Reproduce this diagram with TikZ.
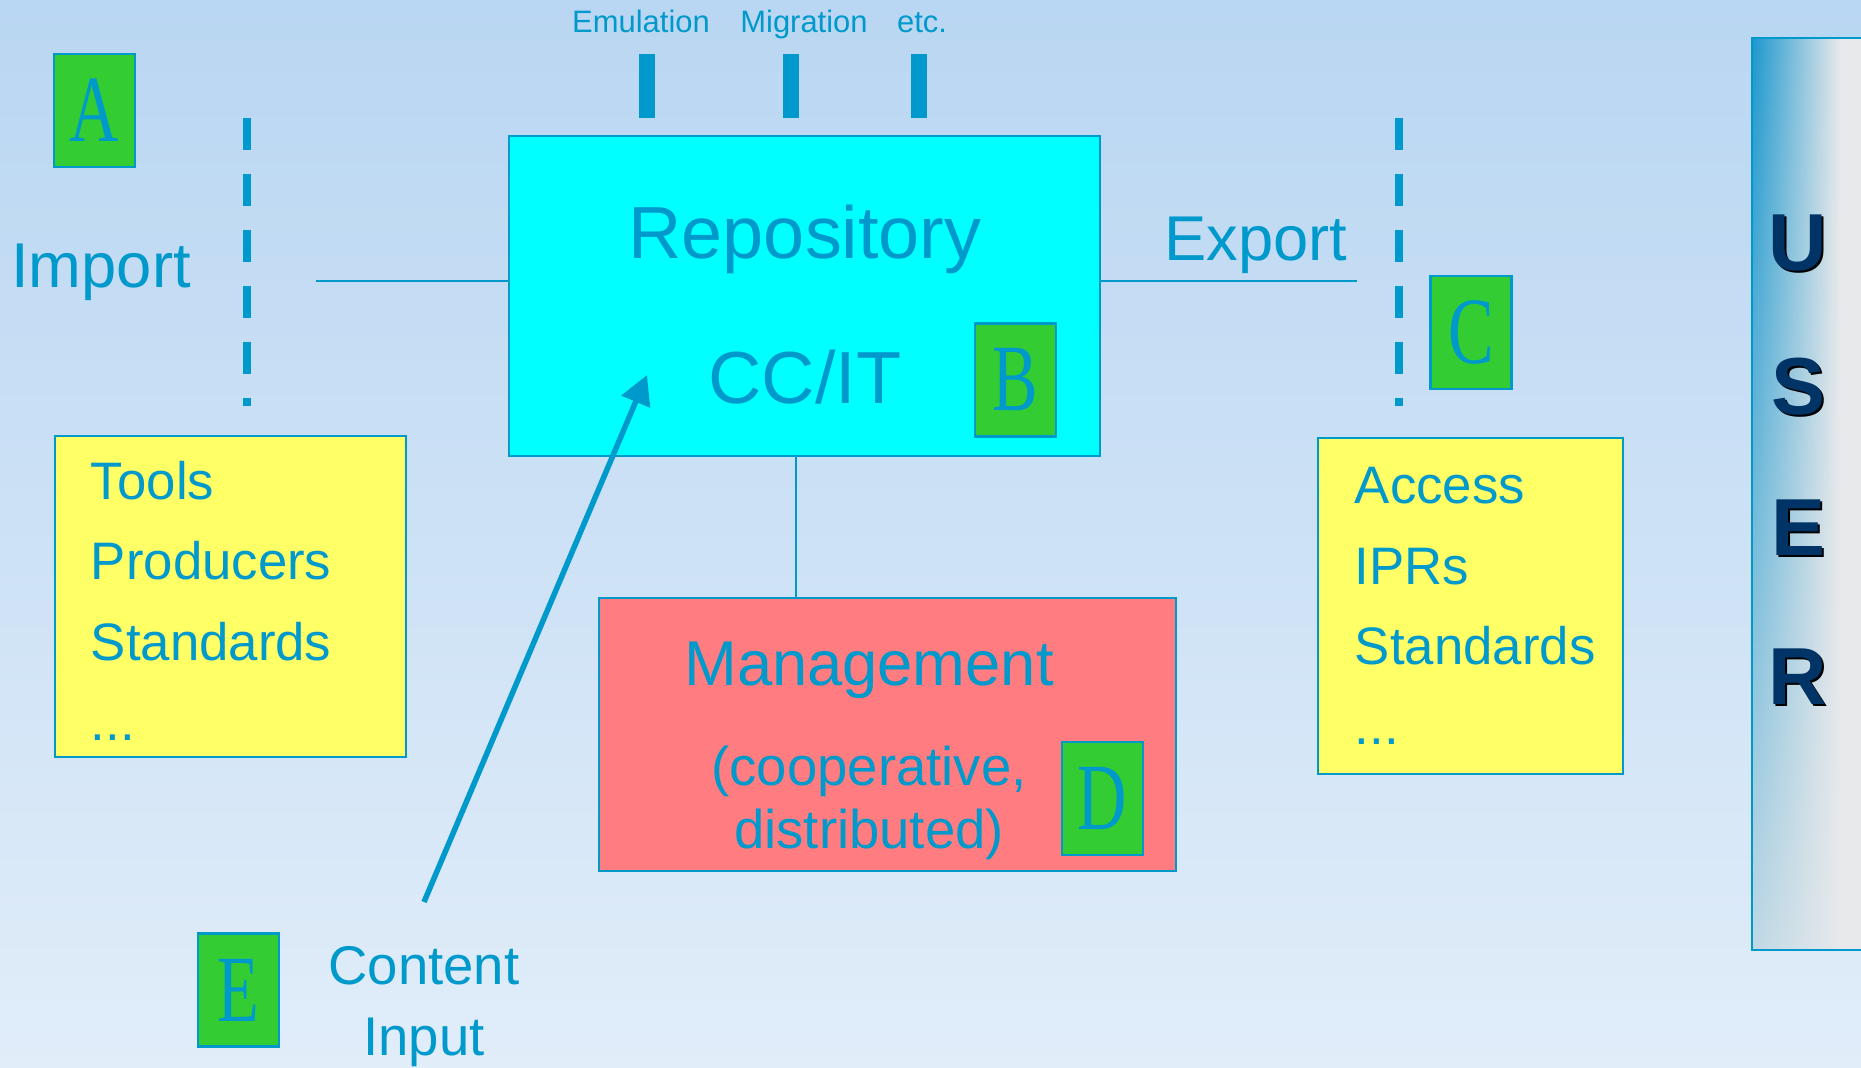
\documentclass[tikz,border=0pt]{standalone}
\usepackage{fontspec}
\setmainfont{Liberation Sans}
\newfontfamily\tagletterfont{Liberation Serif}
\usetikzlibrary{arrows.meta,fadings}
\tikzfading[name=userfade, top color=transparent!100, bottom color=transparent!0]

\begin{document}
\begin{tikzpicture}[
        x=0.01cm, y=-0.01cm,
    ]

    \definecolor{dipblue}{RGB}{0,153,204}
    \definecolor{bgtop}{RGB}{185,214,242}
    \definecolor{bgbottom}{RGB}{225,237,249}
    \definecolor{repocyan}{RGB}{0,255,255}
    \definecolor{noteyellow}{RGB}{255,255,102}
    \definecolor{mgmtred}{RGB}{255,124,128}
    \definecolor{taggreen}{RGB}{51,204,51}
    \definecolor{usernavy}{RGB}{0,51,102}
    \definecolor{userblue}{RGB}{28,152,206}
    \definecolor{usergrey}{RGB}{232,233,235}

    \tikzstyle{box} = [rectangle, draw=dipblue, line width=0.6pt, inner sep=0pt];
    \tikzstyle{lettertag} = [box, fill=taggreen, minimum width=0.81cm, minimum height=1.13cm,
                       text=dipblue, font=\tagletterfont\fontsize{27}{30}\selectfont];
    \tikzstyle{notebox} = [box, fill=noteyellow, text=dipblue, align=left, inner xsep=0.36cm,
                       font=\fontsize{15}{22.8}\selectfont];
    \tikzstyle{txt} = [text=dipblue, anchor=base, inner sep=0pt];
    \tikzstyle{methodbar} = [rectangle, fill=dipblue, minimum width=0.16cm, minimum height=0.64cm, inner sep=0pt];
    \tikzstyle{userletter} = [font=\bfseries\fontsize{23}{23}\selectfont, inner sep=0pt];
    \tikzstyle{conn} = [draw=dipblue, line width=0.6pt];
    \tikzstyle{dashline} = [draw=dipblue, line width=0.08cm, dash pattern=on 0.32cm off 0.24cm];

    % Background
    \shade[top color=bgtop, bottom color=bgbottom] (0,0) rectangle (1861,1068);
    \useasboundingbox (0,0) rectangle (1861,1068);

    % User bar
    \shade[left color=userblue, right color=usergrey] (1752,38) rectangle (1840,950);
    \fill[usergrey] (1840,38) rectangle (1861,950);
    \fill[usergrey, path fading=userfade, fill opacity=0.8] (1752,38) rectangle (1861,950);
    \draw[dipblue, line width=0.6pt] (1861,38) -| (1752,950) -- (1861,950);

    \node[userletter, text=black] (ushadow) at (1800,245) {U};
    \node[userletter, text=usernavy] (uletter) at (1798,243) {U};
    \node[userletter, text=black] (sshadow) at (1800,389) {S};
    \node[userletter, text=usernavy] (sletter) at (1798,387) {S};
    \node[userletter, text=black] (eshadow) at (1800,530) {E};
    \node[userletter, text=usernavy] (eletter) at (1798,528) {E};
    \node[userletter, text=black] (rshadow) at (1800,679) {R};
    \node[userletter, text=usernavy] (rletter) at (1798,677) {R};

    % Nodes
    \node[box, fill=repocyan, minimum width=5.91cm, minimum height=3.20cm] (repo) at (804.5,296) {};
    \node[txt, font=\fontsize{21}{25}\selectfont] (repotitle) at (805,259) {Repository};
    \node[txt, font=\fontsize{21}{25}\selectfont] (repoccit) at (805,404) {CC/IT};

    \node[box, fill=mgmtred, minimum width=5.77cm, minimum height=2.73cm] (mgmt) at (887.5,734.5) {};
    \node[txt, font=\fontsize{18}{20}\selectfont] (mgmttitle) at (869,686) {Management};
    \node[text=dipblue, align=center, inner sep=0pt, font=\fontsize{15.5}{17.9}\selectfont]
        (mgmtnote) at (869,803) {(cooperative,\\distributed)};

    \node[notebox, minimum width=3.51cm, minimum height=3.21cm, text width=2.79cm]
        (importbox) at (230.5,596.5) {\rule{0pt}{0.47cm}Tools\\Producers\\Standards\\...};
    \node[notebox, minimum width=3.05cm, minimum height=3.36cm, text width=2.31cm]
        (exportbox) at (1470.5,606) {Access\\IPRs\\Standards\\...};

    \node[lettertag] (taga) at (94.5,110.5) {\scalebox{0.72}[1]{A}};
    \node[lettertag] (tagb) at (1015.5,380) {\scalebox{0.72}[1]{B}};
    \node[lettertag] (tagc) at (1471,332.5) {\scalebox{0.72}[1]{C}};
    \node[lettertag] (tagd) at (1102.5,798.5) {\scalebox{0.72}[1]{D}};
    \node[lettertag] (tage) at (238.5,990) {\scalebox{0.72}[1]{E}};

    \node[txt, font=\fontsize{18}{20}\selectfont] (importlabel) at (101,288) {Import};
    \node[txt, font=\fontsize{18}{20}\selectfont] (exportlabel) at (1256,261) {Export};
    \node[text=dipblue, align=center, inner sep=0pt, font=\fontsize{15.5}{20.2}\selectfont]
        (contentinput) at (424,1007) {Content\\Input};

    \node[methodbar] (emubar) at (647,86) {};
    \node[methodbar] (migbar) at (791,86) {};
    \node[methodbar] (etcbar) at (919,86) {};
    \node[txt, font=\fontsize{8.8}{10}\selectfont] (emulabel) at (641,33) {Emulation};
    \node[txt, font=\fontsize{8.8}{10}\selectfont] (miglabel) at (804,33) {Migration};
    \node[txt, font=\fontsize{8.8}{10}\selectfont] (etclabel) at (922,33) {etc.};

    % Borders
    \draw[dashline] (247,118) -- (247,406);
    \draw[dashline] (1399,118) -- (1399,406);

    % Lines
    \coordinate (importend) at (316,281);
    \coordinate (exportend) at (1357,281);
    \coordinate (mgmtjoin) at (796,0);
    \draw[conn] (importend) -- (importend -| repo.west);
    \draw[conn] (exportend -| repo.east) -- (exportend);
    \draw[conn] (mgmtjoin |- repo.south) -- (mgmtjoin |- mgmt.north);

    % Arrow
    \coordinate (contentfoot) at (424,902);
    \coordinate (contenttip) at (647,375);
    \draw[dipblue, line width=0.055cm, -{Triangle[length=0.29cm, width=0.30cm]}]
        (contentfoot) -- (contenttip);

\end{tikzpicture}
\end{document}
